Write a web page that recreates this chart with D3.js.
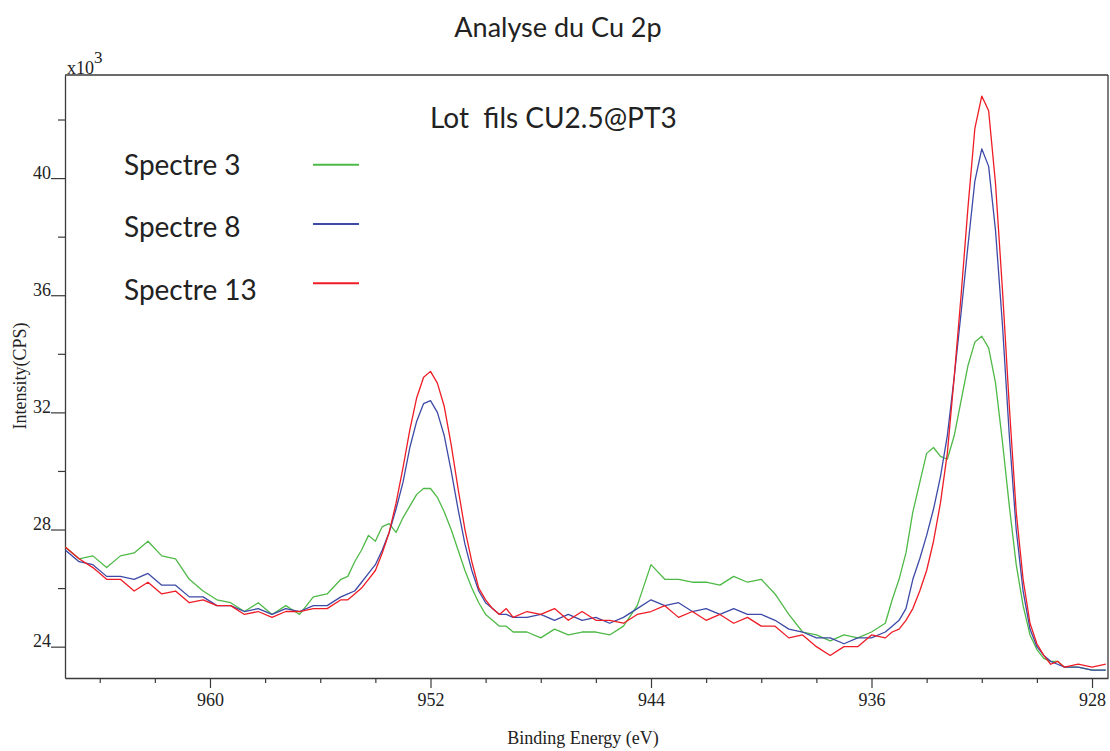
<!DOCTYPE html>
<html>
<head>
<meta charset="utf-8">
<script src="https://cdn.jsdelivr.net/npm/d3@7/dist/d3.min.js"></script>
<style>
  html, body { margin: 0; padding: 0; background: #fff; }
  svg { display: block; }
</style>
</head>
<body>
<svg id="chart" width="1110" height="751"></svg>
<script>
// ---------- data ----------
const energy = [
  965.25, 964.75, 964.25, 963.75, 963.25, 962.75, 962.25, 961.75, 961.25, 960.75, 960.25,
  959.75, 959.25, 958.75, 958.25, 957.75, 957.25, 956.75, 956.25, 955.75, 955.25,
  955.0, 954.75, 954.5, 954.25, 954.0, 953.75, 953.5, 953.25, 953.0, 952.75, 952.5, 952.25,
  952.0, 951.75, 951.5, 951.25, 951.0, 950.75, 950.5, 950.25, 950.0, 949.75, 949.5, 949.25, 949.0,
  948.5, 948.0, 947.5, 947.0, 946.5, 946.0, 945.5, 945.0, 944.5, 944.0, 943.5, 943.0, 942.5,
  942.0, 941.5, 941.0, 940.5, 940.0, 939.5, 939.0, 938.5, 938.0, 937.5, 937.0, 936.5, 936.0, 935.5,
  935.25, 935.0, 934.75, 934.5, 934.25, 934.0, 933.75, 933.5, 933.25, 933.0, 932.75, 932.5, 932.25,
  932.0, 931.75, 931.5, 931.25, 931.0, 930.75, 930.5, 930.25, 930.0, 929.75, 929.5, 929.25, 929.0,
  928.5, 928.0, 927.5
];
const spectre3 = [
  27.4, 27.0, 27.1, 26.7, 27.1, 27.2, 27.6, 27.1, 27.0, 26.3, 25.9,
  25.6, 25.5, 25.2, 25.5, 25.1, 25.4, 25.1, 25.7, 25.8, 26.3,
  26.4, 26.9, 27.3, 27.8, 27.6, 28.1, 28.2, 27.9, 28.4, 28.8, 29.2, 29.4,
  29.4, 29.1, 28.6, 28.0, 27.3, 26.6, 26.0, 25.5, 25.1, 24.9, 24.7, 24.7, 24.5,
  24.5, 24.3, 24.6, 24.4, 24.5, 24.5, 24.4, 24.7, 25.4, 26.8, 26.3, 26.3, 26.2,
  26.2, 26.1, 26.4, 26.2, 26.3, 25.8, 25.1, 24.5, 24.4, 24.2, 24.4, 24.3, 24.5, 24.8,
  25.6, 26.3, 27.2, 28.6, 29.6, 30.6, 30.8, 30.5, 30.4, 31.2, 32.4, 33.6, 34.4,
  34.6, 34.2, 33.0, 31.0, 28.8, 26.8, 25.4, 24.4, 23.9, 23.6, 23.5, 23.5, 23.3,
  23.3, 23.2, 23.2
];
const spectre8 = [
  27.3, 26.9, 26.8, 26.4, 26.4, 26.3, 26.5, 26.1, 26.1, 25.7, 25.7,
  25.4, 25.4, 25.2, 25.3, 25.1, 25.3, 25.2, 25.4, 25.4, 25.7,
  25.8, 25.9, 26.2, 26.5, 26.8, 27.3, 27.9, 28.7, 29.6, 30.8, 31.7, 32.3,
  32.4, 32.0, 31.2, 30.0, 28.7, 27.5, 26.6, 25.9, 25.5, 25.3, 25.1, 25.1, 25.0,
  25.0, 25.1, 24.9, 25.1, 24.9, 25.0, 24.8, 25.0, 25.3, 25.6, 25.4, 25.5, 25.2,
  25.3, 25.1, 25.3, 25.1, 25.1, 24.9, 24.6, 24.5, 24.3, 24.3, 24.1, 24.3, 24.3, 24.5,
  24.7, 24.9, 25.3, 26.3, 27.0, 27.8, 28.7, 29.8, 31.2, 33.2, 35.4, 37.7, 39.9,
  41.0, 40.4, 38.2, 35.0, 31.2, 28.0, 25.9, 24.6, 24.0, 23.7, 23.5, 23.4, 23.3,
  23.3, 23.2, 23.2
];
const spectre13 = [
  27.4, 27.0, 26.7, 26.3, 26.3, 25.9, 26.2, 25.8, 25.9, 25.5, 25.6,
  25.4, 25.4, 25.1, 25.2, 25.0, 25.2, 25.2, 25.3, 25.3, 25.6,
  25.6, 25.8, 26.0, 26.3, 26.6, 27.2, 27.9, 28.9, 30.1, 31.4, 32.5, 33.2,
  33.4, 33.0, 32.2, 30.9, 29.4, 28.0, 26.9, 26.0, 25.6, 25.3, 25.1, 25.3, 25.0,
  25.2, 25.1, 25.3, 24.9, 25.2, 24.9, 24.9, 24.8, 25.1, 25.2, 25.4, 25.0, 25.2,
  24.9, 25.1, 24.8, 25.0, 24.7, 24.7, 24.3, 24.4, 24.0, 23.7, 24.0, 24.0, 24.4, 24.3,
  24.5, 24.6, 24.9, 25.3, 25.9, 26.6, 27.6, 28.9, 30.6, 33.2, 36.0, 39.0, 41.7,
  42.8, 42.3, 39.8, 36.2, 32.2, 28.6, 26.3, 24.8, 24.1, 23.7, 23.4, 23.5, 23.3,
  23.4, 23.3, 23.4
];
const seriesNames = ["Spectre 3", "Spectre 8", "Spectre 13"];
const seriesColors = ["#4fb947", "#3d4aa6", "#ee1c25"];
const xMajorTicks = [960, 952, 944, 936, 928];
const xMinorTicks = [964, 962, 958, 956, 954, 950, 948, 946, 942, 940, 938, 934, 932, 930];
const yMajorTicks = [24, 28, 32, 36, 40];
const yMinorTicks = [26, 30, 34, 38, 42];
const titleText = "Analyse du Cu 2p";
const subtitleText = "Lot  fils CU2.5@PT3";
const xLabel = "Binding Energy (eV)";
const yLabel = "Intensity(CPS)";

// ---------- layout ----------
const svg = d3.select("#chart");
const L = 65, R = 1108, T = 75, B = 678;
const x = d3.scaleLinear().domain([965.26, 927.42]).range([L, R]);
const y = d3.scaleLinear().domain([22.93, 43.52]).range([B, T]);
const axisColor = "#3a3a3a";
const serif = "'Liberation Serif', 'Times New Roman', serif";
const sans = "Lato, 'Open Sans', sans-serif";

svg.append("rect").attr("width", 1110).attr("height", 751).attr("fill", "#fff");

svg.append("clipPath").attr("id", "plotclip")
  .append("rect").attr("x", L).attr("y", T).attr("width", R - L).attr("height", B - T);

// frame lines: top and right
svg.append("line").attr("x1", L).attr("x2", R).attr("y1", T).attr("y2", T)
  .attr("stroke", axisColor).attr("stroke-width", 1.3);
svg.append("line").attr("x1", R).attr("x2", R).attr("y1", T).attr("y2", B)
  .attr("stroke", axisColor).attr("stroke-width", 1.3);

// x axis
const gx = svg.append("g").attr("transform", `translate(0,${B})`)
  .call(d3.axisBottom(x).tickValues(xMajorTicks).tickSize(10).tickSizeOuter(0)
    .tickPadding(5).tickFormat(d3.format("d")));
const gxm = svg.append("g").attr("transform", `translate(0,${B})`)
  .call(d3.axisBottom(x).tickValues(xMinorTicks).tickSize(5).tickSizeOuter(0).tickFormat(""));
gxm.select(".domain").remove();

// y axis
const gy = svg.append("g").attr("transform", `translate(${L},0)`)
  .call(d3.axisLeft(y).tickValues(yMajorTicks).tickSize(14).tickSizeOuter(0)
    .tickPadding(0).tickFormat(d3.format("d")));
const gym = svg.append("g").attr("transform", `translate(${L},0)`)
  .call(d3.axisLeft(y).tickValues(yMinorTicks).tickSize(7).tickSizeOuter(0).tickFormat(""));
gym.select(".domain").remove();

[gx, gxm, gy, gym].forEach(g => {
  g.selectAll(".domain").attr("stroke", axisColor).attr("stroke-width", 1.3);
  g.selectAll(".tick line").attr("stroke", axisColor).attr("stroke-width", 1.2);
  g.selectAll("text").attr("fill", "#222").attr("font-family", serif).attr("font-size", 18);
});
gx.selectAll("text").attr("dy", "0.72em");
gy.selectAll("text").attr("dy", "0").attr("x", -14);

// axis titles
svg.append("text").attr("x", 67).attr("y", 74)
  .attr("font-family", serif).attr("font-size", 18).attr("fill", "#222")
  .text("x10")
  .append("tspan").attr("dy", -11).attr("font-size", 17).text("3");

svg.append("text")
  .attr("transform", "translate(26,376) rotate(-90)")
  .attr("text-anchor", "middle")
  .attr("font-family", serif).attr("font-size", 18).attr("fill", "#222")
  .text(yLabel);

svg.append("text").attr("x", 583).attr("y", 744).attr("text-anchor", "middle")
  .attr("font-family", serif).attr("font-size", 18).attr("fill", "#222")
  .text(xLabel);

// series
const seriesData = [spectre3, spectre8, spectre13];
const line = d3.line().x(d => x(d[0])).y(d => y(d[1]));
const plot = svg.append("g").attr("clip-path", "url(#plotclip)");
seriesData.forEach((vals, i) => {
  const pts = energy.map((e, j) => [e, vals[j]]);
  plot.append("path").datum(pts)
    .attr("d", line)
    .attr("fill", "none")
    .attr("stroke", seriesColors[i])
    .attr("stroke-width", 1.3)
    .attr("stroke-linejoin", "round");
});

// title & subtitle
svg.append("text").attr("x", 558).attr("y", 37).attr("text-anchor", "middle")
  .attr("font-family", sans).attr("font-size", 27).attr("fill", "#222")
  .text(titleText);
svg.append("text").attr("x", 430).attr("y", 128)
  .attr("font-family", sans).attr("font-size", 28).attr("fill", "#222")
  .style("white-space", "pre")
  .attr("xml:space", "preserve")
  .text(subtitleText);

// legend
const legBase = [175, 237, 300];
const legLineY = [164.7, 224, 283.3];
seriesNames.forEach((name, i) => {
  svg.append("text").attr("x", 124).attr("y", legBase[i])
    .attr("font-family", sans).attr("font-size", 28).attr("fill", "#222")
    .text(name);
  svg.append("line").attr("x1", 313).attr("x2", 359)
    .attr("y1", legLineY[i]).attr("y2", legLineY[i])
    .attr("stroke", seriesColors[i]).attr("stroke-width", 2);
});
</script>
</body>
</html>
